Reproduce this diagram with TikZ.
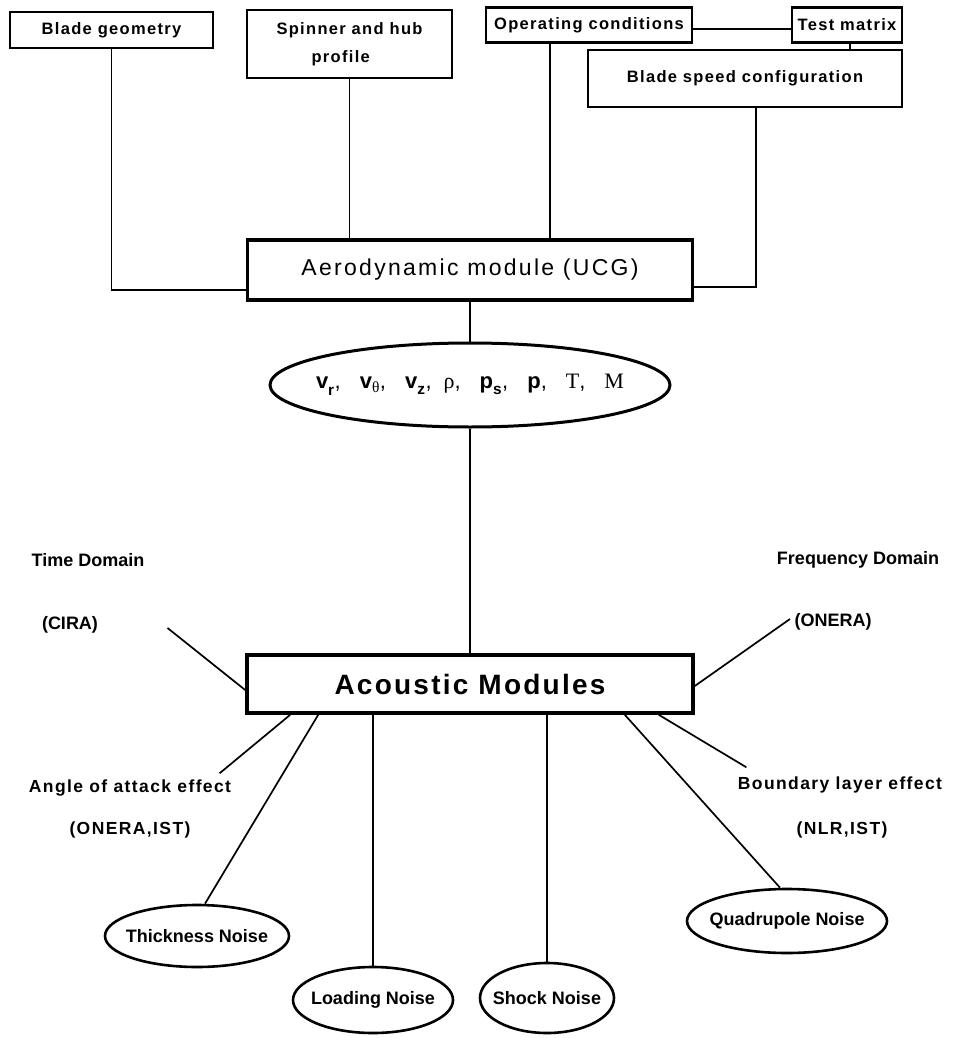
\documentclass[tikz,border=0pt]{standalone}
\usepackage{fontspec}
\setmainfont{Liberation Sans}
\newfontfamily\boxfont[LetterSpace=8]{Liberation Sans}
\newfontfamily\modfont[LetterSpace=10]{Liberation Sans}
\newfontfamily\romanfont{Liberation Serif}
\usetikzlibrary{shapes.geometric, positioning}

\begin{document}
\begin{tikzpicture}[
  x=1pt, y=-1pt,
  inbox/.style={rectangle, draw, line width=2.2pt, inner sep=1pt,
                font=\boxfont\bfseries\fontsize{16.5}{19}\selectfont},
  modbox/.style={rectangle, draw, line width=3.6pt, inner sep=2pt},
  vareq/.style={ellipse, draw, line width=3pt, inner xsep=-70pt, inner ysep=0pt,
                minimum width=400pt, minimum height=84pt,
                font=\fontsize{22}{25}\selectfont},
  noise/.style={ellipse, draw, line width=2.6pt, inner xsep=-30pt, inner ysep=0pt,
                font=\bfseries\fontsize{18}{21}\selectfont},
  tag/.style={font=\bfseries\fontsize{18}{21}\selectfont},
  srctag/.style={font=\boxfont\bfseries\fontsize{17.5}{21}\selectfont},
  wire/.style={line width=1.7pt}
]
  \useasboundingbox (0,0) rectangle (965,1038);

  % input boxes
  \node[inbox, minimum width=203pt, minimum height=36pt] (geom)   at (111.5,30) {Blade geometry};
  \node[inbox, minimum width=205pt, minimum height=68pt, align=left] (spin) at (349.5,44)
       {Spinner and hub\\[9pt]\hspace*{35pt}profile};
  \node[inbox, minimum width=206pt, minimum height=35pt] (opcond) at (589,25)  {Operating conditions};
  \node[inbox, minimum width=110pt, minimum height=35pt] (testmat)at (847,25)  {Test matrix};
  \node[inbox, minimum width=314pt, minimum height=57pt] (speed)  at (745,78.5){Blade speed configuration};

  % modules
  \node[modbox, minimum width=445pt, minimum height=60pt,
        font=\modfont\fontsize{23}{27}\selectfont] (aero) at (470,270) {Aerodynamic module (UCG)};
  \node[vareq] (vars) at (470,385)
       {\textbf{v}\raisebox{-4pt}{\textsubscript{\textbf{r}}},\hspace{19pt}\textbf{v}\textsubscript{\romanfont θ},\hspace{19pt}\textbf{v}\raisebox{-3pt}{\textsubscript{\textbf{z}}},\hspace{12pt}{\romanfont ρ},\hspace{19pt}\textbf{p}\raisebox{-3pt}{\textsubscript{\textbf{s}}},\hspace{19pt}\textbf{p},\hspace{19pt}{\romanfont T},\hspace{19pt}{\romanfont M}};
  \node[modbox, minimum width=446pt, minimum height=58pt,
        font=\boxfont\bfseries\fontsize{28}{32}\selectfont] (acou) at (470,684) {Acoustic Modules};

  % labels round the acoustic box
  \node[tag] (timedom) at (88,560)  {Time Domain};
  \node[tag] (cira)    at (70,625)  {(CIRA)};
  \node[tag] (freqdom) at (858,560) {Frequency Domain};
  \node[tag] (onera)   at (833,622) {(ONERA)};
  \node[srctag] (aoa)     at (130,788) {Angle of attack effect};
  \node[srctag] (aoasrc)  at (130,830) {(ONERA,IST)};
  \node[srctag] (blay)    at (840,785) {Boundary layer effect};
  \node[srctag] (blaysrc) at (842,830) {(NLR,IST)};

  % noise sources
  \node[noise, minimum width=184pt, minimum height=62pt] (thick) at (197,936)  {Thickness Noise};
  \node[noise, minimum width=160pt, minimum height=66pt] (load)  at (373,1000) {Loading Noise};
  \node[noise, minimum width=134pt, minimum height=70pt] (shock) at (547,998)  {Shock Noise};
  \node[noise, minimum width=200pt, minimum height=64pt] (quad)  at (787,921)  {Quadrupole Noise};

  % top connections
  \draw[wire] ([yshift=-4pt]opcond.east) -- ([yshift=-4pt]testmat.west);
  \draw[wire] ([xshift=3pt]testmat.south) -- ([xshift=3pt]testmat.south |- speed.north);
  \draw[wire] (geom.south) |- ([yshift=-20pt]aero.west);
  \draw[wire] (spin.south) -- (spin.south |- aero.north);
  \draw[wire] ([xshift=-39pt]opcond.south) -- ([xshift=-39pt]opcond.south |- aero.north);
  \draw[wire] ([xshift=11pt]speed.south) |- ([yshift=-17pt]aero.east);

  % middle chain
  \draw[wire] (aero) -- (vars);
  \draw[wire] (vars) -- (acou);

  % acoustic branches
  \draw[wire] ([xshift=66pt,yshift=-3pt]cira.east) -- ([yshift=-6pt]acou.west);
  \draw[wire] ([yshift=-2pt]acou.east) -- ([xshift=-1pt,yshift=3pt]onera.west);
  \draw[wire] ([xshift=45pt]acou.south west) -- ([xshift=-15pt,yshift=3pt]aoa.north east);
  \draw[wire] ([xshift=73pt]acou.south west) -- ([xshift=8pt]thick.north);
  \draw[wire] (acou.south -| load.north) -- (load.north);
  \draw[wire] (acou.south -| shock.north) -- (shock.north);
  \draw[wire] ([xshift=-70pt]acou.south east) -- ([xshift=-7pt]quad.north);
  \draw[wire] ([xshift=-36pt]acou.south east) -- ([xshift=12pt,yshift=6pt]blay.north west);
\end{tikzpicture}
\end{document}
